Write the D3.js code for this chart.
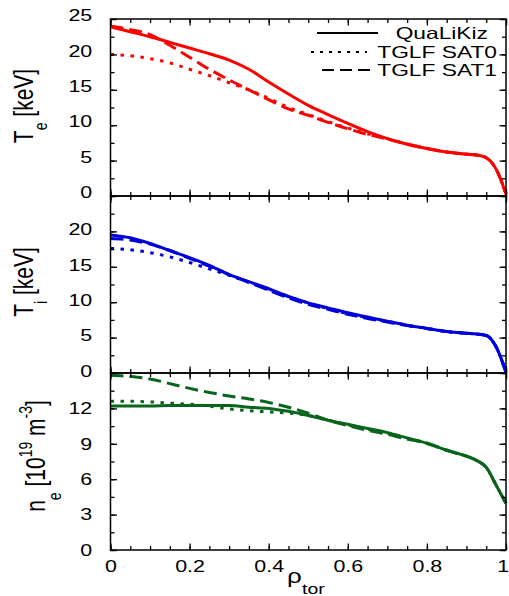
<!DOCTYPE html>
<html>
<head>
<meta charset="utf-8">
<script src="https://cdn.jsdelivr.net/npm/d3@7"></script>
<style>
  body { margin: 0; background: #fff; }
  text { font-family: "Liberation Sans", Arial, sans-serif; fill: #000; }
</style>
</head>
<body>
<script>
// radial grid (rho_tor) shared by all profiles
var rho = [0, 0.05, 0.1, 0.15, 0.2, 0.25, 0.3, 0.35, 0.4, 0.45, 0.5, 0.55, 0.6, 0.65, 0.7, 0.75, 0.8, 0.85, 0.9, 0.925, 0.95, 0.975, 1.0];

// Te [keV]
var teQlk  = [23.9, 23.2, 22.5, 21.7, 20.9, 20.1, 19.2, 17.9, 16.1, 14.4, 12.8, 11.5, 10.25, 9.1, 8.1, 7.3, 6.7, 6.2, 5.9, 5.8, 5.4, 3.8, 0.3];
var teSat0 = [20.0, 19.8, 19.4, 18.8, 17.9, 17.0, 16.0, 15.0, 13.8, 12.5, 11.5, 10.5, 9.6, 8.8, 8.1, 7.35, 6.7, 6.2, 5.9, 5.8, 5.4, 3.8, 0.3];
var teSat1 = [24.0, 23.5, 22.8, 21.3, 19.6, 17.9, 16.4, 15.0, 13.6, 12.3, 11.4, 10.4, 9.5, 8.7, 8.05, 7.35, 6.7, 6.2, 5.9, 5.8, 5.4, 3.8, 0.3];

// Ti [keV]
var tiQlk  = [19.5, 19.1, 18.3, 17.3, 16.3, 15.2, 13.9, 12.9, 11.9, 10.8, 9.9, 9.2, 8.5, 7.9, 7.3, 6.75, 6.3, 5.85, 5.6, 5.5, 5.3, 3.7, 0.1];
var tiSat0 = [17.6, 17.4, 17.0, 16.4, 15.6, 14.7, 13.8, 12.8, 11.8, 10.8, 9.9, 9.1, 8.4, 7.8, 7.3, 6.75, 6.3, 5.85, 5.6, 5.5, 5.3, 3.7, 0.1];
var tiSat1 = [19.0, 18.8, 18.2, 17.3, 16.2, 15.1, 13.9, 12.8, 11.7, 10.6, 9.7, 9.0, 8.3, 7.7, 7.2, 6.7, 6.3, 5.85, 5.6, 5.5, 5.3, 3.7, 0.1];

// ne [1e19 m^-3]
var neQlk  = [12.2, 12.2, 12.2, 12.25, 12.25, 12.25, 12.25, 12.1, 12.0, 11.75, 11.4, 11.0, 10.65, 10.3, 9.95, 9.5, 9.05, 8.45, 7.95, 7.6, 7.0, 5.5, 3.95];
var neSat0 = [12.6, 12.6, 12.55, 12.45, 12.35, 12.2, 11.95, 11.8, 11.7, 11.6, 11.4, 11.0, 10.6, 10.25, 9.9, 9.45, 9.05, 8.45, 7.95, 7.6, 7.0, 5.5, 3.95];
var neSat1 = [14.8, 14.7, 14.5, 14.1, 13.7, 13.35, 13.05, 12.8, 12.5, 12.1, 11.6, 11.0, 10.55, 10.15, 9.8, 9.4, 9.05, 8.45, 7.95, 7.6, 7.0, 5.5, 3.95];

var xTicks = [0, 0.2, 0.4, 0.6, 0.8, 1];
var xLabels = ["0", "0.2", "0.4", "0.6", "0.8", "1"];
var models = ["QuaLiKiz", "TGLF SAT0", "TGLF SAT1"];

var panels = [
  { max: 25, ticks: [0, 5, 10, 15, 20, 25], minor: 2.5, color: "#ff0000", series: [teQlk, teSat0, teSat1] },
  { max: 25, ticks: [0, 5, 10, 15, 20], minor: 2.5, color: "#0000dd", series: [tiQlk, tiSat0, tiSat1] },
  { max: 15, ticks: [0, 3, 6, 9, 12], minor: 1.5, color: "#0a651c", series: [neQlk, neSat0, neSat1] }
];
var labelShift = [-3.5, -2, 0];

var dashes = [null, "3.5,6.5", "13,6"];
var stretch = "scale(1.3,1)";

var svgWidth = 509, svgHeight = 596;
var left = 110.5, right = 506, top0 = 19, panelH = 177;

var svg = d3.select("body").append("svg")
  .attr("width", svgWidth)
  .attr("height", svgHeight);

var x = d3.scaleLinear().domain([0, 1]).range([left, right]);

function minorTicks(max, step) {
  var out = [];
  for (var v = 0; v <= max + 1e-9; v += step) out.push(+v.toFixed(3));
  return out;
}

// helper: draws an axis into its own group
function addAxis(parent, tx, ty, axis) {
  return parent.append("g")
    .attr("transform", "translate(" + tx + "," + ty + ")")
    .call(axis.tickSizeOuter(0));
}

panels.forEach(function(p, i) {
  var yTop = top0 + i * panelH;
  var yBot = yTop + panelH;
  var y = d3.scaleLinear().domain([0, p.max]).range([yBot, yTop]);
  var g = svg.append("g");

  // curves
  var line = d3.line()
    .x(function(d) { return x(d[0]); })
    .y(function(d) { return y(d[1]); })
    .curve(d3.curveMonotoneX);

  [0, 2, 1].forEach(function(k) {
    var pts = rho.map(function(r, j) { return [r, p.series[k][j]]; });
    g.append("path")
      .datum(pts)
      .attr("d", line)
      .attr("fill", "none")
      .attr("stroke", p.color)
      .attr("stroke-width", 3)
      .attr("stroke-dasharray", dashes[k]);
  });

  // axes, ticks inside on all four sides
  var yMinor = minorTicks(p.max, p.minor);
  var xMinor = minorTicks(1, 0.05);

  addAxis(g, left, 0, d3.axisLeft(y).tickValues(yMinor).tickSize(-4).tickFormat(""));
  var yl = addAxis(g, left, 0, d3.axisLeft(y).tickValues(p.ticks).tickSize(-6.5).tickPadding(14).tickFormat(d3.format("d")));
  yl.selectAll("text").attr("y", labelShift[i]);

  addAxis(g, right, 0, d3.axisRight(y).tickValues(yMinor).tickSize(-4).tickFormat(""));
  addAxis(g, right, 0, d3.axisRight(y).tickValues(p.ticks).tickSize(-6.5).tickFormat(""));

  addAxis(g, 0, yTop, d3.axisTop(x).tickValues(xMinor).tickSize(-4).tickFormat(""));
  addAxis(g, 0, yTop, d3.axisTop(x).tickValues(xTicks).tickSize(-6.5).tickFormat(""));

  addAxis(g, 0, yBot, d3.axisBottom(x).tickValues(xMinor).tickSize(-4).tickFormat(""));
  if (i === panels.length - 1) {
    var xb = addAxis(g, 0, yBot, d3.axisBottom(x).tickValues(xTicks).tickSize(-6.5).tickPadding(10)
      .tickFormat(function(d, j) { return xLabels[j]; }));
    xb.selectAll("text").filter(function(d) { return d === 1; }).attr("x", -2.5);
  } else {
    addAxis(g, 0, yBot, d3.axisBottom(x).tickValues(xTicks).tickSize(-6.5).tickFormat(""));
  }

  g.selectAll(".domain").remove();
  g.selectAll(".tick line").attr("stroke", "#000").attr("stroke-width", 1.3);
  g.selectAll(".tick text")
    .attr("transform", stretch)
    .style("font-size", "16.5px")
    .style("font-family", "'Liberation Sans', Arial, sans-serif");

  g.append("rect")
    .attr("x", left).attr("y", yTop)
    .attr("width", right - left).attr("height", panelH)
    .attr("fill", "none").attr("stroke", "#000").attr("stroke-width", 1.5);
});

// y labels (rotated)
function yLabel(tx, ty, build) {
  var t = svg.append("text")
    .attr("transform", "translate(" + tx + "," + ty + ") " + stretch + " rotate(-90)")
    .attr("text-anchor", "middle")
    .style("font-size", "21px");
  build(t);
}
yLabel(33, 106, function(t) {
  t.append("tspan").text("T");
  t.append("tspan").attr("dy", 11).style("font-size", "14px").text("e");
  t.append("tspan").attr("dy", -11).text(" [keV]");
});
yLabel(33, 282, function(t) {
  t.append("tspan").text("T");
  t.append("tspan").attr("dy", 11).style("font-size", "14px").text("i");
  t.append("tspan").attr("dy", -11).text(" [keV]");
});
yLabel(45, 456, function(t) {
  t.append("tspan").text("n");
  t.append("tspan").attr("dy", 12).style("font-size", "14px").text("e");
  t.append("tspan").attr("dy", -12).text(" [10");
  t.append("tspan").attr("dy", -10).style("font-size", "14px").text("19");
  t.append("tspan").attr("dy", 10).text(" m");
  t.append("tspan").attr("dy", -10).style("font-size", "14px").text("-3");
  t.append("tspan").attr("dy", 10).text("]");
});

// x label
svg.append("text")
  .attr("transform", "translate(287,583) " + stretch)
  .style("font-size", "20px")
  .text("\u03c1");
svg.append("text")
  .attr("transform", "translate(302,594) " + stretch)
  .style("font-size", "15px")
  .text("tor");

// legend
var legendRows = [
  { y: 33, x1: 317, x2: 378, tx: 488 },
  { y: 52, x1: 311, x2: 367, tx: 497 },
  { y: 70, x1: 322, x2: 376, tx: 497 }
];
models.forEach(function(name, k) {
  var r = legendRows[k];
  svg.append("line")
    .attr("x1", r.x1).attr("x2", r.x2).attr("y1", r.y).attr("y2", r.y)
    .attr("stroke", "#000").attr("stroke-width", 2)
    .attr("stroke-dasharray", k === 1 ? "3,6" : (k === 2 ? "12,6" : null));
  svg.append("text")
    .attr("transform", "translate(" + r.tx + "," + (r.y + 6) + ") scale(1.38,1)")
    .attr("text-anchor", "end")
    .style("font-size", "16.5px")
    .text(name);
});
</script>
</body>
</html>
